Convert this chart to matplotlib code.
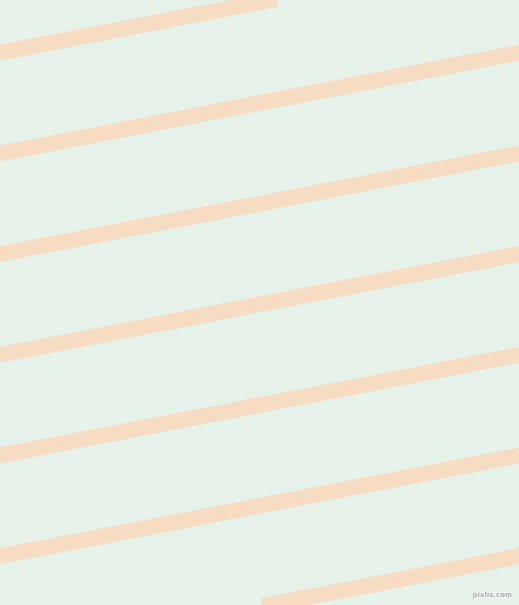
import matplotlib
matplotlib.use("Agg")
import matplotlib.pyplot as plt
import matplotlib.patheffects as pe

W, H = 519, 605
bg_color = "#E7F2EB"
stripe_color = "#F5DCC3"

# left-edge y of each stripe centre (pixels) and the drop across the full width
left_y = [-48.0, 52.7, 153.4, 254.1, 354.8, 455.5, 556.2, 656.9]
drop = 100.7
stripe_px = 15.7

fig = plt.figure(figsize=(W / 100, H / 100), dpi=100)
ax = fig.add_axes([0, 0, 1, 1])
ax.set_xlim(0, W)
ax.set_ylim(H, 0)
ax.set_facecolor(bg_color)
fig.patch.set_facecolor(bg_color)
ax.axis("off")

for y0 in left_y:
    x = [-20, W + 20]
    y = [y0 - drop * xi / W for xi in x]
    ax.plot(x, y, color=stripe_color, lw=stripe_px * 0.72, solid_capstyle="butt")

ax.text(513, 595, "pixlis.com", fontsize=5, color="#A4AAA6", ha="right", va="center",
        fontweight="bold",
        path_effects=[pe.withStroke(linewidth=1.2, foreground="white")])

fig.savefig("out.png", dpi=100, facecolor=bg_color)
